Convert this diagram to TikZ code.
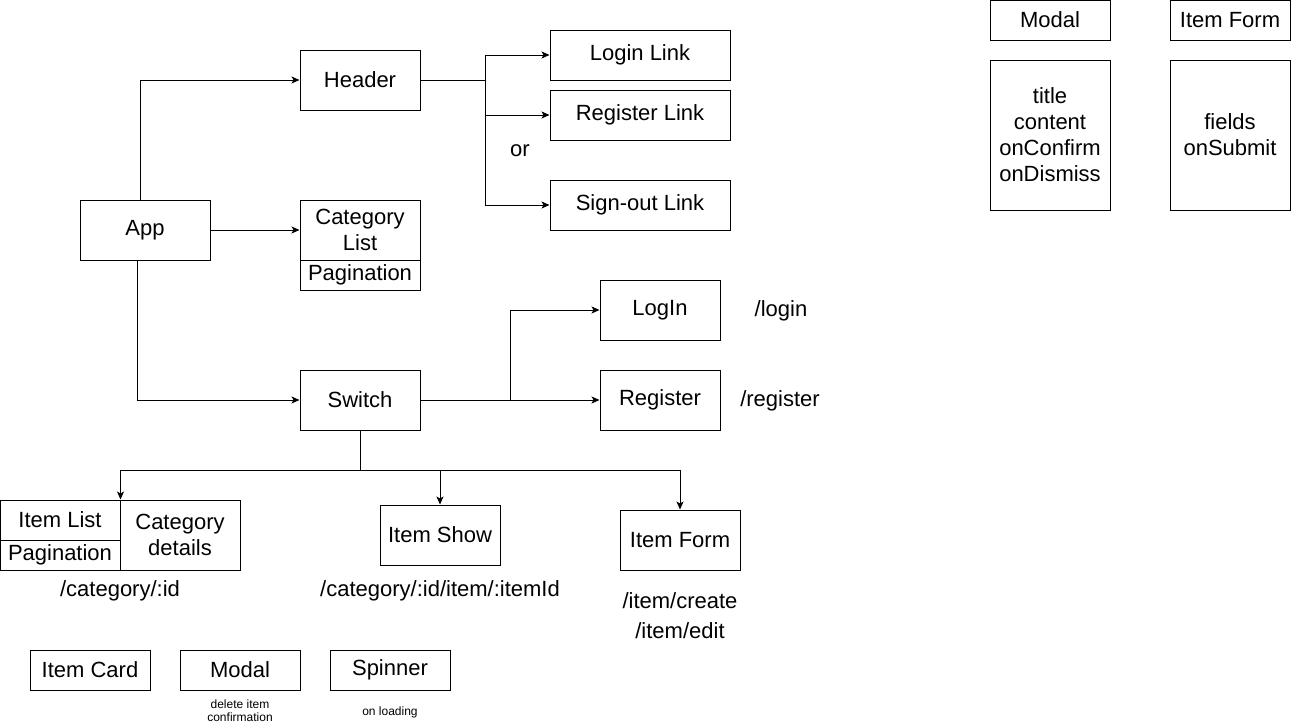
\documentclass[tikz,border=0pt]{standalone}
\usepackage{fontspec}
\setmainfont{Liberation Sans}
\usetikzlibrary{arrows.meta}
\begin{document}
\begin{tikzpicture}[x=1pt,y=-1pt,
  every node/.style={font=\fontsize{22}{26}\selectfont},
  box/.style={draw, line width=1pt, rectangle, inner sep=0pt, align=center},
  lbl/.style={inner sep=0pt, align=center},
  small/.style={inner sep=0pt, align=center, font=\fontsize{12}{13}\selectfont},
  conn/.style={line width=1pt},
  arr/.style={line width=1pt, -{Stealth[length=8pt,width=7pt,inset=2pt]}}]
\useasboundingbox (0,0) rectangle (1292,724);
% top row
\node[box, minimum width=130, minimum height=60] (app) at (145,230) {App};
\node[box, minimum width=120, minimum height=60] (header) at (360,80) {Header};
\node[box, minimum width=120, minimum height=60] (catlist) at (360,230) {Category\\List};
\node[box, minimum width=120, minimum height=30] (catpag) at (360,275) {Pagination};
\node[box, minimum width=180, minimum height=50] (loginlink) at (640,55) {Login Link};
\node[box, minimum width=180, minimum height=50] (reglink) at (640,115) {Register Link};
\node[box, minimum width=180, minimum height=50] (signout) at (640,205) {Sign-out Link};
\node[lbl] (or) at (520,151) {or};
% switch
\node[box, minimum width=120, minimum height=60] (switch) at (360,400) {Switch};
\node[box, minimum width=120, minimum height=60] (login) at (660,310) {LogIn};
\node[box, minimum width=120, minimum height=60] (register) at (660,400) {Register};
\node[lbl] (loginpath) at (781,311) {/login};
\node[lbl] (regpath) at (780,401) {/register};
% routes
\node[box, minimum width=120, minimum height=40] (itemlist) at (60,520) {Item List};
\node[box, minimum width=120, minimum height=30] (itempag) at (60,555) {Pagination};
\node[box, minimum width=120, minimum height=70] (catdet) at (180,535) {Category\\details};
\node[box, minimum width=120, minimum height=60] (itemshow) at (440,535) {Item Show};
\node[box, minimum width=120, minimum height=60] (itemform) at (680,540) {Item Form};
\node[lbl] (catpath) at (120,591) {/category/:id};
\node[lbl] (showpath) at (440,591) {/category/:id/item/:itemId};
\node[lbl, font=\fontsize{22}{30}\selectfont] (formpath) at (680,616) {/item/create\\/item/edit};
% shared components
\node[box, minimum width=120, minimum height=40] (itemcard) at (90,670) {Item Card};
\node[box, minimum width=120, minimum height=40] (modal) at (240,670) {Modal};
\node[box, minimum width=120, minimum height=40] (spinner) at (390,670) {Spinner};
\node[small] (modalnote) at (240,711) {delete item\\confirmation};
\node[small] (spinnote) at (390,712) {on loading};
% right side
\node[box, minimum width=120, minimum height=40] (rmodal) at (1050,20) {Modal};
\node[box, minimum width=120, minimum height=150] (rmodalp) at (1050,135) {title\\content\\onConfirm\\onDismiss};
\node[box, minimum width=120, minimum height=40] (rform) at (1230,20) {Item Form};
\node[box, minimum width=120, minimum height=150] (rformp) at (1230,135) {fields\\onSubmit};
% connectors
\draw[arr] ([xshift=-5]app.north) |- (header.west);
\draw[arr] (app.east) -- (catlist.west);
\draw[arr] ([xshift=-8]app.south) |- (switch.west);
\coordinate (hj) at (485,80);
\draw[conn] (header.east) -- (hj);
\draw[arr] (hj) |- (loginlink.west);
\draw[arr] (hj) |- (reglink.west);
\draw[arr] (hj) |- (signout.west);
\coordinate (sj) at (510,400);
\draw[arr] (switch.east) -- (register.west);
\draw[arr] (sj) |- (login.west);
\coordinate (sb) at (360,470);
\draw[conn] (switch.south) -- (sb);
\draw[arr] (sb) -| (itemlist.north east);
\draw[arr] (sb) -| (itemshow.north);
\draw[arr] (sb) -| (itemform.north);
\end{tikzpicture}
\end{document}
